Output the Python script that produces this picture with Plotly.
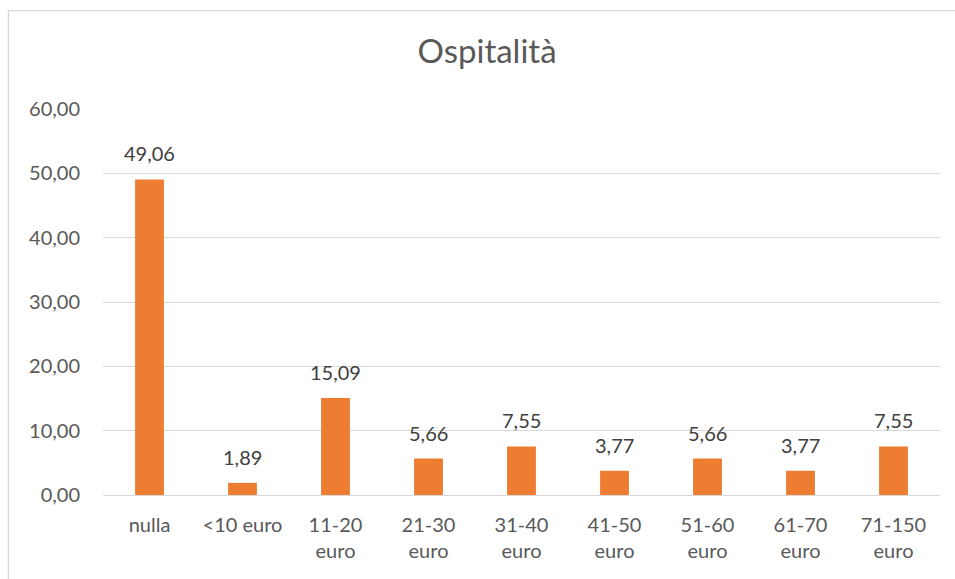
import plotly.graph_objects as go

# Spending categories and share of respondents (%)
categories = ["nulla", "<10 euro", "11-20<br>euro", "21-30<br>euro", "31-40<br>euro",
              "41-50<br>euro", "51-60<br>euro", "61-70<br>euro", "71-150<br>euro"]
values = [49.06, 1.89, 15.09, 5.66, 7.55, 3.77, 5.66, 3.77, 7.55]
title_text = "Ospitalità"

TEXT = "#595959"
GRID = "#d9d9d9"
FONT = "Lato, 'Open Sans', sans-serif"

fig = go.Figure(
    go.Bar(
        x=categories,
        y=values,
        marker=dict(color="#ED7D31", line=dict(width=0)),
        cliponaxis=False,
    )
)

# value labels above each bar
for c, v in zip(categories, values):
    fig.add_annotation(
        x=c, y=v, xref="x", yref="y",
        text=f"{v:.2f}".replace(".", ","),
        showarrow=False, yanchor="bottom", yshift=12,
        font=dict(size=20, color="#404040", family=FONT),
    )

fig.update_layout(
    width=955,
    height=579,
    margin=dict(l=103, r=15, t=109, b=84),
    paper_bgcolor="white",
    plot_bgcolor="white",
    separators=",.",
    bargap=0.69,
    font=dict(family=FONT, color=TEXT, size=20),
    title=dict(text=title_text, x=0.51, xanchor="center", y=0.912, yanchor="middle",
               font=dict(size=33, color=TEXT, family=FONT)),
    showlegend=False,
    xaxis=dict(showgrid=False, showline=False, ticks="", ticklabelstandoff=16,
               tickfont=dict(size=20, color=TEXT)),
    yaxis=dict(range=[0, 60], dtick=10, tickformat=".2f", showgrid=True,
               gridcolor=GRID, gridwidth=1.3, zeroline=True, zerolinecolor=GRID,
               zerolinewidth=1.3, ticks="", ticklabelstandoff=22,
               tickfont=dict(size=20, color=TEXT)),
    shapes=[dict(type="rect", xref="paper", yref="paper",
                 x0=-0.113, x1=1.2, y0=-0.5, y1=1.255,
                 line=dict(color=GRID, width=1.3), fillcolor="rgba(0,0,0,0)")],
)

fig.write_html("out.html")
